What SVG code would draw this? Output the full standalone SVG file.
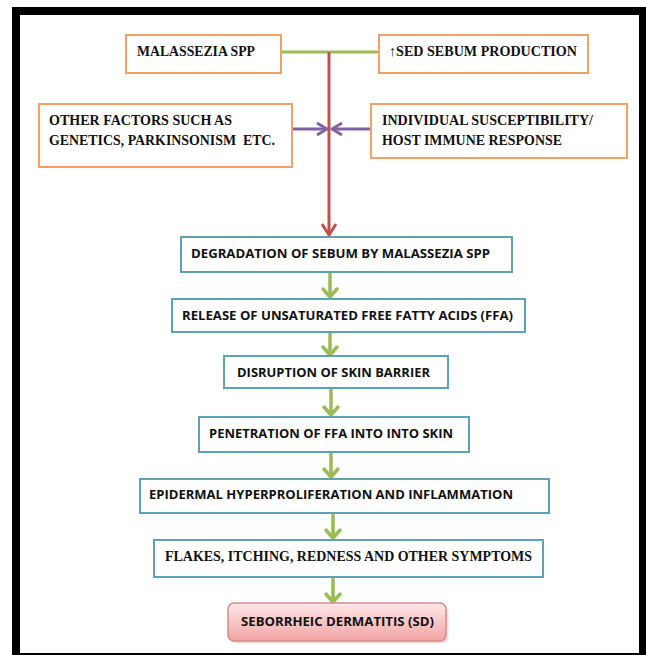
<svg xmlns="http://www.w3.org/2000/svg" width="646" height="655" viewBox="0 0 646 655">
<style>
.ob{fill:#fff;stroke:#F2A266;stroke-width:2}
.bb{fill:#fff;stroke:#5DA3B3;stroke-width:2}
.st{font-family:"Liberation Serif","DejaVu Serif",serif;font-weight:bold;font-size:14.5px;fill:#111}
.ss{font-family:"Open Sans","Liberation Sans",sans-serif;font-weight:bold;font-size:13px;fill:#111}
.ga{stroke:#9BBB59;stroke-width:3.5;fill:none;stroke-linecap:round;stroke-linejoin:round}
.pa{stroke:#8064A2;stroke-width:3;fill:none;stroke-linejoin:round}
</style>
<defs>
<linearGradient id="sdg" x1="0" y1="0" x2="0" y2="1">
<stop offset="0" stop-color="#FFE8E8"/>
<stop offset="1" stop-color="#F2A3A3"/>
</linearGradient>
</defs>
<rect x="0" y="0" width="646" height="655" fill="#fff"/>
<rect x="16" y="11" width="627" height="646" fill="none" stroke="#000" stroke-width="8"/>

<g id="connectors">
<line x1="281" y1="52" x2="379" y2="52" stroke="#9BBB59" stroke-width="3"/>
<line x1="329" y1="52" x2="329" y2="232" stroke="#C0504D" stroke-width="3"/>
<path d="M322,224 L329,235 L336,224" fill="none" stroke="#C0504D" stroke-width="3" stroke-linejoin="round"/>
<line x1="292" y1="129" x2="325" y2="129" class="pa"/>
<path d="M317,123 L327,129 L317,135" class="pa"/>
<line x1="334" y1="129" x2="371" y2="129" class="pa"/>
<path d="M342,123 L332,129 L342,135" class="pa"/>
<line x1="330" y1="273" x2="330" y2="296" class="ga"/>
<path d="M323,289 L330,297 L337,289" class="ga"/>
<line x1="330" y1="333" x2="330" y2="354" class="ga"/>
<path d="M323,347 L330,355 L337,347" class="ga"/>
<line x1="331" y1="389" x2="331" y2="414" class="ga"/>
<path d="M324,407 L331,415 L338,407" class="ga"/>
<line x1="331" y1="453" x2="331" y2="476" class="ga"/>
<path d="M324,469 L331,477 L338,469" class="ga"/>
<line x1="333" y1="514" x2="333" y2="537" class="ga"/>
<path d="M326,530 L333,538 L340,530" class="ga"/>
<line x1="333" y1="578" x2="333" y2="601" class="ga"/>
<path d="M326,594 L333,602 L340,594" class="ga"/>
</g>

<g id="malassezia">
<rect class="ob" x="126" y="35" width="155" height="38"/>
<text class="st" x="137" y="56" textLength="118" lengthAdjust="spacingAndGlyphs">MALASSEZIA SPP</text>
</g>
<g id="sebum">
<rect class="ob" x="379" y="35" width="209" height="38"/>
<text class="st" x="389" y="56" textLength="188" lengthAdjust="spacingAndGlyphs">↑SED SEBUM PRODUCTION</text>
</g>
<g id="other-factors">
<rect class="ob" x="39" y="104" width="253" height="63"/>
<text class="st" x="49" y="125" textLength="183" lengthAdjust="spacingAndGlyphs">OTHER FACTORS SUCH AS</text>
<text class="st" x="49" y="145" textLength="226" lengthAdjust="spacingAndGlyphs">GENETICS, PARKINSONISM&#160; ETC.</text>
</g>
<g id="individual">
<rect class="ob" x="371" y="104" width="256" height="54"/>
<text class="st" x="382" y="125" textLength="211" lengthAdjust="spacingAndGlyphs">INDIVIDUAL SUSCEPTIBILITY/</text>
<text class="st" x="382" y="145" textLength="180" lengthAdjust="spacingAndGlyphs">HOST IMMUNE RESPONSE</text>
</g>
<g id="degradation">
<rect class="bb" x="181" y="237" width="331" height="35"/>
<text class="ss" x="191" y="258" textLength="299" lengthAdjust="spacingAndGlyphs">DEGRADATION OF SEBUM BY MALASSEZIA SPP</text>
</g>
<g id="release">
<rect class="bb" x="172" y="299" width="353" height="33"/>
<text class="ss" x="182" y="320" textLength="331" lengthAdjust="spacingAndGlyphs">RELEASE OF UNSATURATED FREE FATTY ACIDS (FFA)</text>
</g>
<g id="disruption">
<rect class="bb" x="224" y="356" width="224" height="32"/>
<text class="ss" x="237" y="377" textLength="193" lengthAdjust="spacingAndGlyphs">DISRUPTION OF SKIN BARRIER</text>
</g>
<g id="penetration">
<rect class="bb" x="199" y="417" width="270" height="35"/>
<text class="ss" x="209" y="438" textLength="244" lengthAdjust="spacingAndGlyphs">PENETRATION OF FFA INTO INTO SKIN</text>
</g>
<g id="epidermal">
<rect class="bb" x="140" y="479" width="409" height="34"/>
<text class="ss" x="149" y="499" textLength="364" lengthAdjust="spacingAndGlyphs">EPIDERMAL HYPERPROLIFERATION AND INFLAMMATION</text>
</g>
<g id="flakes">
<rect class="bb" x="154" y="540" width="389" height="37"/>
<text class="st" x="165" y="561" textLength="367" lengthAdjust="spacingAndGlyphs">FLAKES, ITCHING, REDNESS AND OTHER SYMPTOMS</text>
</g>
<g id="sd">
<rect x="229" y="604" width="218" height="38" rx="6" fill="#C9A0A0" opacity="0.35" transform="translate(1.5,1.5)"/>
<rect x="228" y="603" width="218" height="38" rx="6" fill="url(#sdg)" stroke="#D58C8C" stroke-width="1.5"/>
<text class="ss" x="241" y="626" textLength="193" lengthAdjust="spacingAndGlyphs">SEBORRHEIC DERMATITIS (SD)</text>
</g>
</svg>
